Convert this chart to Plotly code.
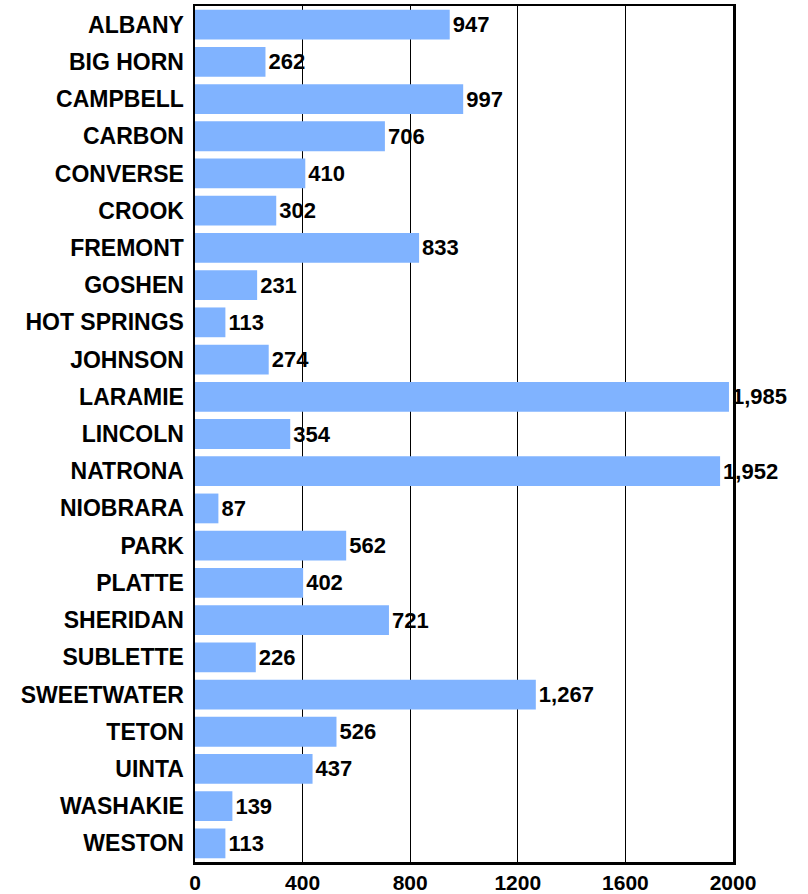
import plotly.graph_objects as go

counties = ["ALBANY", "BIG HORN", "CAMPBELL", "CARBON", "CONVERSE", "CROOK", "FREMONT",
            "GOSHEN", "HOT SPRINGS", "JOHNSON", "LARAMIE", "LINCOLN", "NATRONA", "NIOBRARA",
            "PARK", "PLATTE", "SHERIDAN", "SUBLETTE", "SWEETWATER", "TETON", "UINTA",
            "WASHAKIE", "WESTON"]
values = [947, 262, 997, 706, 410, 302, 833, 231, 113, 274, 1985, 354, 1952, 87,
          562, 402, 721, 226, 1267, 526, 437, 139, 113]
x_ticks = [0, 400, 800, 1200, 1600, 2000]

font_family = "Liberation Sans, Arial, sans-serif"

fig = go.Figure(go.Bar(
    y=counties, x=values, orientation="h",
    marker=dict(color="#80B3FF", line=dict(width=0)),
    texttemplate="%{x:,}", textposition="outside", cliponaxis=False,
    textfont=dict(family=font_family, size=22, color="black", weight="bold"),
    hoverinfo="skip",
))

fig.update_layout(
    width=808, height=894,
    margin=dict(l=195, r=75, t=6, b=32, autoexpand=False),
    plot_bgcolor="white", paper_bgcolor="white",
    bargap=0.2, showlegend=False,
    font=dict(family=font_family, size=22, color="black"),
)
fig.update_xaxes(
    range=[0, 2000], tickvals=x_ticks, ticktext=[str(v) for v in x_ticks],
    showgrid=True, gridcolor="black", gridwidth=1.3,
    showline=True, linecolor="black", linewidth=2.5, mirror=True,
    tickfont=dict(family=font_family, size=21, color="black", weight="bold"),
    zeroline=False, ticks="", automargin=False,
)
fig.update_yaxes(
    categoryorder="array", categoryarray=counties, autorange="reversed",
    showgrid=False, showline=True, linecolor="black", linewidth=2.5, mirror=True,
    tickfont=dict(family=font_family, size=23, color="black", weight="bold"),
    ticks="outside", ticklen=4, tickcolor="white", automargin=False,
)

fig.write_html(
    "out.html",
    config={"displayModeBar": False, "staticPlot": True},
    post_script="document.body.style.margin='0';document.body.style.padding='0';document.body.style.overflow='hidden';",
)
